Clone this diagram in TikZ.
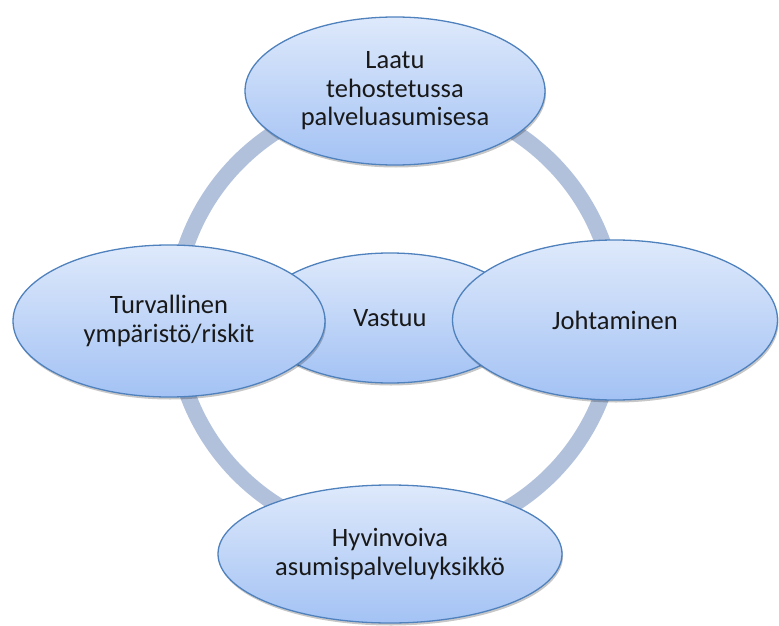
\documentclass[tikz,border=0pt]{standalone}
\usepackage{fontspec}
\setmainfont{Carlito}
\usetikzlibrary{shapes.geometric,shadows}
\definecolor{ringblue}{RGB}{177,193,220}
\definecolor{edgeblue}{RGB}{79,129,189}
\definecolor{filltop}{RGB}{222,233,251}
\definecolor{fillbottom}{RGB}{163,194,244}
\definecolor{inktext}{RGB}{25,25,25}
\tikzset{
  bubble/.style={ellipse, draw=edgeblue, line width=1.3pt,
    top color=filltop, bottom color=fillbottom, inner sep=0pt,
    align=center, text=inktext,
    font=\fontsize{26.5}{28.5}\selectfont,
    general shadow={shadow xshift=1pt, shadow yshift=-2.5pt,
      fill=black, opacity=0.22}},
  ring/.style={draw=ringblue, line width=16pt}
}
\begin{document}
\begin{tikzpicture}[x=1pt,y=-1pt]
  \useasboundingbox (0,0) rectangle (779,626);
  % ring behind the bubbles
  \coordinate (hub) at (395,318);
  \draw[ring] (hub) circle[radius=221];
  % central bubble, overlapped by the side bubbles
  \node[bubble, minimum width=266pt, minimum height=130pt] (vastuu) at (390,318) {Vastuu};
  \node[bubble, minimum width=300pt, minimum height=148pt] (laatu) at (395,91)
    {Laatu\\tehostetussa\\palveluasumisesa};
  \node[bubble, minimum width=344pt, minimum height=138pt] (hyvinvoiva) at (390,554)
    {Hyvinvoiva\\asumispalveluyksikkö};
  \node[bubble, minimum width=325pt, minimum height=160pt] (johtaminen) at (615,320) {Johtaminen};
  \node[bubble, minimum width=312pt, minimum height=152pt] (turvallinen) at (169,321)
    {Turvallinen\\ympäristö/riskit};
\end{tikzpicture}
\end{document}
